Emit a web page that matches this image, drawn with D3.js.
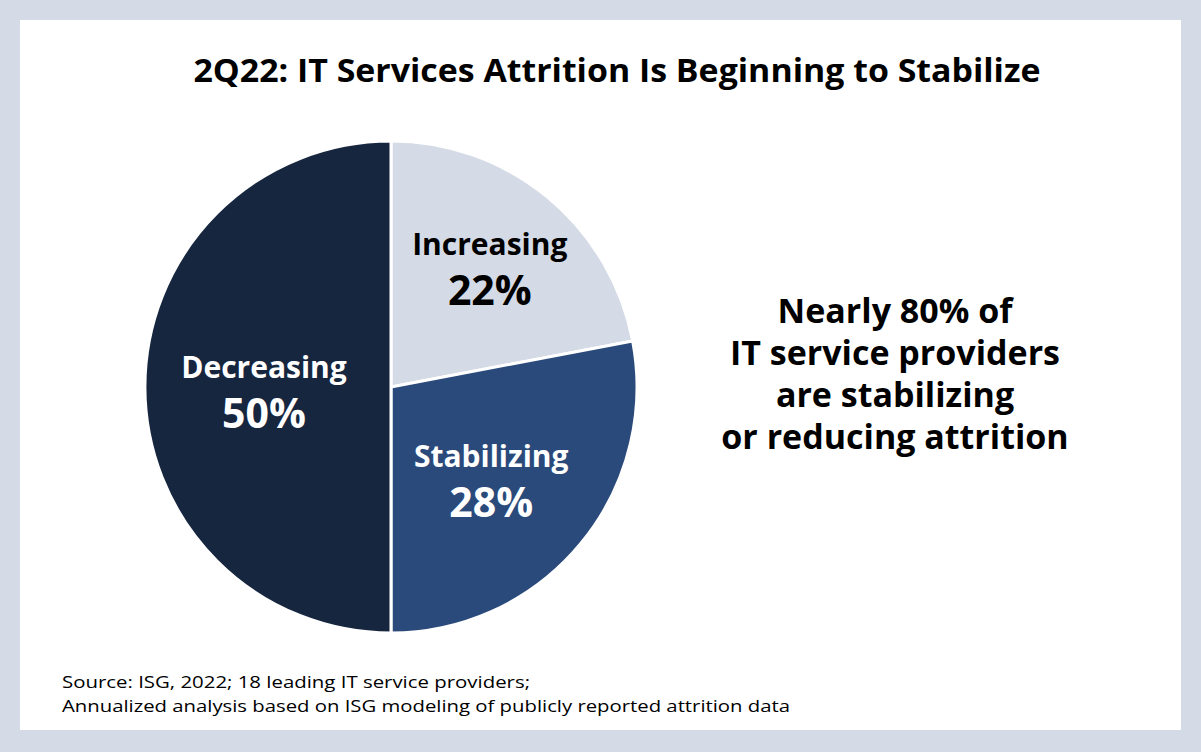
<!DOCTYPE html>
<html><head><meta charset="utf-8">
<script src="https://cdn.jsdelivr.net/npm/d3@7"></script>
<style>html,body{margin:0;padding:0;background:#fff;}svg{display:block;}</style>
</head><body>
<svg id="chart" width="1201" height="752"></svg>
<script>
const categories = ["Increasing", "Stabilizing", "Decreasing"];
const values = [22, 28, 50];
const colors = ["#d4dae6", "#2a4a7b", "#17263f"];
const labelColors = ["#000000", "#ffffff", "#ffffff"];
const title = "2Q22: IT Services Attrition Is Beginning to Stabilize";
const calloutLines = ["Nearly 80% of", "IT service providers", "are stabilizing", "or reducing attrition"];
const sourceLines = ["Source: ISG, 2022; 18 leading IT service providers;", "Annualized analysis based on ISG modeling of publicly reported attrition data"];

const svg = d3.select("#chart");
const W = 1201, H = 752;
svg.append("rect").attr("width", W).attr("height", H).attr("fill", "#d4dae6");
svg.append("rect").attr("x", 20).attr("y", 20).attr("width", 1161).attr("height", 710).attr("fill", "#ffffff");

svg.append("text").attr("x", 617).attr("y", 82).attr("text-anchor", "middle")
  .attr("font-family", "Open Sans").attr("font-weight", 700).attr("font-size", 33)
  .attr("textLength", 847).attr("lengthAdjust", "spacingAndGlyphs")
  .attr("fill", "#000").text(title);

const cx = 391, cy = 387, R = 246;
const pie = d3.pie().sort(null).value(d => d.v);
const data = categories.map((c, i) => ({c, v: values[i], i}));
const arcs = pie(data);
const arc = d3.arc().innerRadius(0).outerRadius(R);
const g = svg.append("g").attr("transform", `translate(${cx},${cy})`);
g.selectAll("path").data(arcs).join("path")
  .attr("d", arc).attr("fill", d => colors[d.data.i])
  .attr("stroke", "#fff").attr("stroke-width", 3);

const labelR = [155, 130, 127];
const labelDy = [0, 10, 4];
arcs.forEach((a, k) => {
  const ang = (a.startAngle + a.endAngle) / 2;
  const x = Math.sin(ang) * labelR[k];
  const y = -Math.cos(ang) * labelR[k] + labelDy[k];
  const t = g.append("text").attr("text-anchor", "middle")
    .attr("font-family", "Open Sans").attr("font-weight", 700)
    .attr("fill", labelColors[a.data.i]);
  t.append("tspan").attr("x", x).attr("y", y - 13).attr("font-size", 30).text(a.data.c);
  t.append("tspan").attr("x", x).attr("y", y + 37).attr("font-size", 41).text(a.data.v + "%");
});

const ct = svg.append("text").attr("text-anchor", "middle")
  .attr("font-family", "Open Sans").attr("font-weight", 700).attr("font-size", 34).attr("fill", "#000");
calloutLines.forEach((l, i) => ct.append("tspan").attr("x", 895).attr("y", 323 + i * 42).text(l));

const st = svg.append("text").attr("font-family", "Open Sans").attr("font-size", 17).attr("fill", "#000");
const srcLens = [468, 728];
sourceLines.forEach((l, i) => st.append("tspan").attr("x", 62).attr("y", 688 + i * 24)
  .attr("textLength", srcLens[i]).attr("lengthAdjust", "spacingAndGlyphs").text(l));
</script>
</body></html>
